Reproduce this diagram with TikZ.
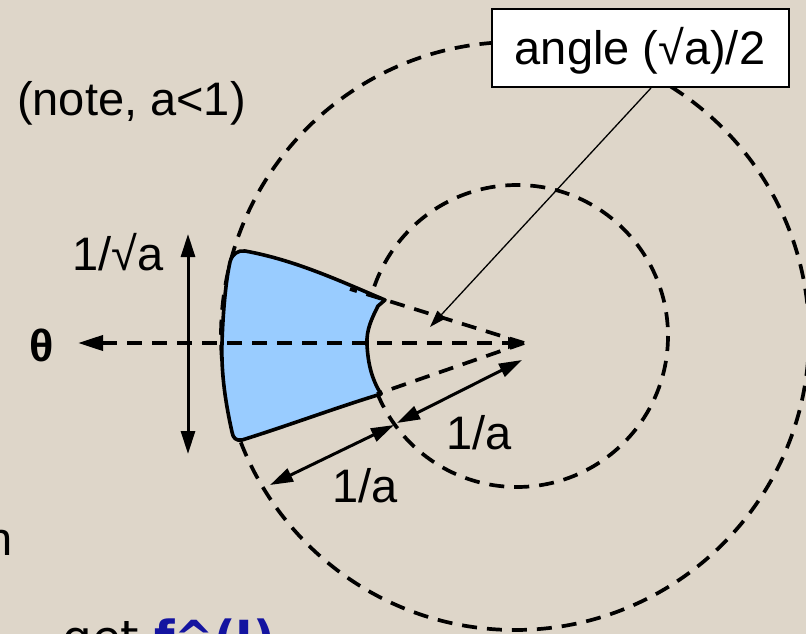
\documentclass[tikz,border=0pt]{standalone}
\usepackage{fontspec}
\setmainfont{Liberation Sans}
\newfontfamily\djv{DejaVu Sans}
\usetikzlibrary{arrows.meta}
\definecolor{bgcol}{RGB}{222,214,201}
\definecolor{blobcol}{RGB}{153,204,255}
\definecolor{dkblue}{RGB}{20,20,160}
\begin{document}
\begin{tikzpicture}[x=1pt,y=-1pt,
  dsh/.style={line width=3.7pt, dash pattern=on 15pt off 10pt},
  solidarrow/.style={line width=3pt, {Triangle[length=23pt,width=14pt]}-{Triangle[length=23pt,width=14pt]}},
  lbl/.style={inner sep=0pt, font=\fontsize{47}{56}\selectfont}]
\fill[bgcol] (0,0) rectangle (806,634);
\useasboundingbox (0,0) rectangle (806,634);

\coordinate (C1) at (515,336);
\coordinate (C2) at (517,336);
\coordinate (apex) at (524,343);
\coordinate (thtip) at (78,343);
\coordinate (rayU) at (350,289);
\coordinate (rayL) at (377,394);

% circles
\draw[dsh] (C1) circle[radius=294];
\draw[dsh] (C2) circle[radius=151];

% blue region
\filldraw[fill=blobcol, draw=black, line width=3.6pt, line join=round]
  (245,251) .. controls (295,260) and (340,281) .. (385,300)
  -- (378,306)
  .. controls (372,318) and (366,330) .. (367,345)
  .. controls (368,362) and (371,378) .. (381,394)
  .. controls (335,408) and (290,425) .. (242,440)
  .. controls (236,441) and (233,438) .. (232,432)
  .. controls (226,405) and (221,375) .. (222,343)
  .. controls (223,310) and (226,280) .. (230,262)
  .. controls (232,254) and (238,250) .. (245,251) -- cycle;

% rays and axis
\draw[dsh] (apex) -- (rayU);
\draw[dsh] (apex) -- (rayL);
\draw[dsh, {Triangle[length=25pt,width=15pt]}-{Triangle[length=16pt,width=11pt]}] (thtip) -- (apex);

% dimension arrows
\coordinate (vT) at (188,234);
\coordinate (vB) at (188,454);
\draw[solidarrow] (vT) -- (vB);
\coordinate (a1s) at (397,423);
\coordinate (a1e) at (522,360);
\draw[solidarrow] (a1s) -- (a1e);
\coordinate (a2s) at (270,485);
\coordinate (a2e) at (394,425);
\draw[solidarrow] (a2s) -- (a2e);

% label box
\node[lbl, draw, fill=white, line width=2pt, minimum width=297pt, minimum height=78pt,
      text height=40pt, text depth=8pt] (box) at (640,48) {angle (√a)/2};
\coordinate (ptr) at (430,327);
\draw[line width=1.3pt, -{Triangle[length=17pt,width=11pt]}] ([xshift=11pt]box.south) -- (ptr);

% labels
\node[lbl, anchor=base west] (note) at (17,115) {(note, a<1)};
\node[lbl, anchor=base west] (sq) at (72,270) {1/√a};
\node[lbl, anchor=base west] (ia) at (446,449) {1/a};
\node[lbl, anchor=base west] (ib) at (332,502) {1/a};
\node[inner sep=0pt, font=\fontsize{45}{50}\selectfont\bfseries] (th) at (42,345) {θ};

% cropped slide text
\node[lbl, anchor=base east] (nn) at (13,555) {n};
\node[inner sep=0pt, anchor=base west, font=\djv\fontsize{47}{56}\selectfont] (get) at (62,654)
  {get {\color{dkblue}\bfseries f\^{}(I)}};
\end{tikzpicture}
\end{document}
